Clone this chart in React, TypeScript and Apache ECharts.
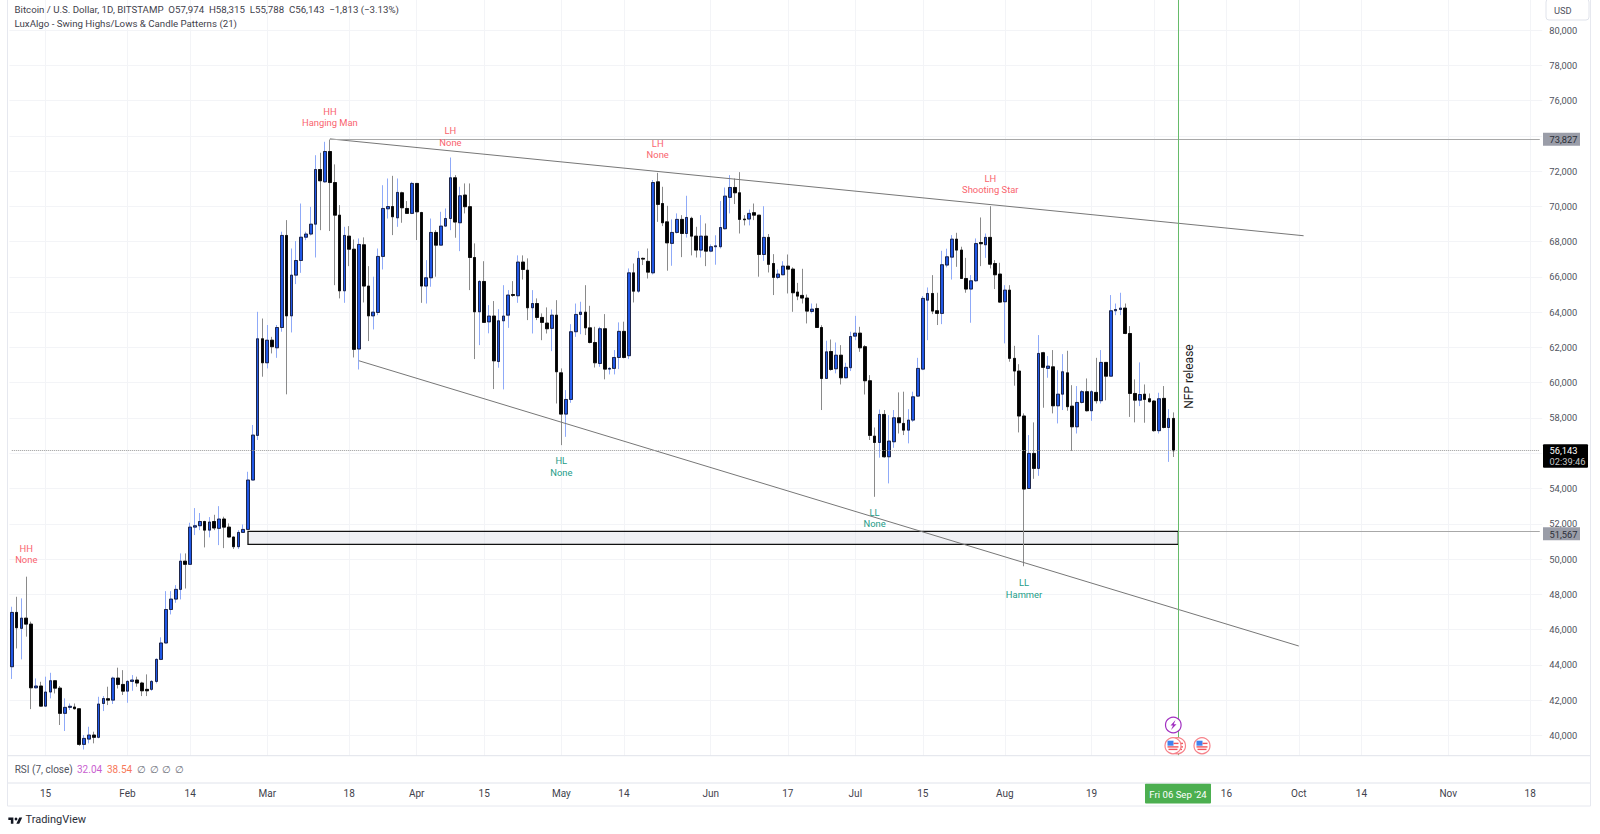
import React, { useEffect, useRef } from "react";
import * as echarts from "echarts";

const START_DATE = "2024-01-08";
const TOTAL_DAYS = 318;
const opens = [
43893,46974,46070,46650,46310,42700,42800,41660,42460,43100,
42680,41250,41590,41610,41510,39490,39790,40020,39890,41810,
42080,42000,43250,42890,42510,43060,43140,42970,42610,42610,
43060,44310,45240,47140,47730,48280,49880,49700,51810,51890,
52130,51640,52130,51740,52270,51810,51250,50700,51510,51680,
54480,57010,62490,61130,62410,61980,63130,68350,63790,66100,
66930,68250,68430,68990,72090,71390,73110,71350,69500,65210,
68310,67570,61910,67820,65480,63790,63980,67160,69860,69990,
69350,70770,69880,69600,71300,69650,65480,65950,68520,67800,
68880,69310,71620,69070,70640,69980,67100,64020,65740,63450,
63780,61200,63510,63830,65000,64930,66840,66380,64250,64490,
63700,63380,63080,63830,60560,58220,59050,62890,63870,64000,
63110,62280,61090,63060,60770,60810,61430,62910,61530,66230,
65190,67050,66880,66230,71390,70160,69120,67900,68520,69260,
68460,69320,68310,67520,68310,67460,67710,67710,68730,70510,
71070,70770,69280,69280,69640,69500,67270,68240,66760,65970,
66120,66610,66440,65140,64950,64800,64040,64210,63130,60240,
61770,60790,61560,60280,60850,62640,62810,62040,60110,56970,
56610,58200,55800,56650,58010,57690,57310,57880,59240,60770,
64680,65060,64080,63930,66670,67120,68140,67520,65910,65310,
65780,67950,67820,68240,66760,66160,64590,65250,61380,60660,
58110,54000,55990,55140,61700,60810,60900,58690,59350,60560,
58670,57500,58880,59490,58410,59450,58980,61150,60370,64080,
64150,64230,62790,59390,59010,59350,59090,58960,57280,59110,
57460,57974];
const closes = [
46974,46105,46650,46310,42700,42800,41660,42460,43100,42680,
41250,41590,41650,41510,39490,39830,40020,39890,41780,42090,
42000,43250,42890,42510,43060,43140,42970,42530,42530,43060,
44310,45240,47140,47730,48280,49880,49700,51810,51890,52130,
51640,52100,51760,52270,51810,51250,50700,51510,51680,54480,
57030,62490,61130,62410,62040,63130,68350,63790,66100,66930,
68250,68430,68990,72090,71450,73110,71350,69500,65210,68350,
67570,61890,67840,65480,63790,64000,67160,69880,69990,69410,
70790,69920,69600,71300,69690,65480,65950,68520,67800,68880,
69310,71620,69110,70600,69980,67100,64020,65740,63420,63780,
61240,63510,63780,64970,64950,66840,66420,64250,64490,63700,
63420,63060,63830,60620,58220,59050,62890,63870,64000,63110,
62280,61130,63060,60770,60810,61430,62910,61430,66230,65190,
67050,67010,66270,71350,70110,69070,67930,68520,69260,68460,
69370,68310,67520,68310,67460,67710,67760,68800,70580,71070,
70770,69260,69240,69600,69500,67270,68240,66710,65970,66160,
66610,66440,65100,64910,64800,64060,64170,63130,60240,61750,
60750,61560,60280,60870,62620,62810,61980,60110,57010,56610,
58200,55800,56690,58010,57730,57310,57880,59200,60810,64780,
65060,64060,63930,66690,67140,68140,67520,65910,65310,65780,
67890,67880,68240,66720,66120,64570,65250,61380,60660,58110,
53970,55990,55140,61660,60870,60940,58690,59350,60620,58640,
57500,58880,59490,58410,59490,58980,61150,60370,64080,64150,
64230,62790,59390,59010,59330,59050,58920,57280,59090,57460,
57974,56143];
const highs = [
47295,47860,47770,49000,46450,43230,43040,43330,43550,43140,
42800,42100,41810,41810,41530,40020,40490,40210,42190,42230,
42760,43330,43840,43700,43140,43420,43330,43040,43460,43140,
44370,45560,48180,48180,48520,50320,50320,52060,52890,52610,
52170,52380,52510,53000,52400,52020,51260,51640,51960,54950,
57600,64020,63640,63270,62600,63270,68560,69220,67610,68030,
70160,68560,69970,72900,73040,73660,73790,72380,70070,68840,
68880,68120,68180,68240,66610,66010,67610,71200,71580,71730,
71580,70830,70300,71390,71300,69690,66950,69310,68650,69690,
69880,72770,71770,71110,71300,71300,67900,65820,66890,64400,
64630,64170,65530,65250,65760,67220,67220,67050,65250,64780,
63930,64270,64150,64680,60810,59580,63320,64490,64590,65530,
64360,63170,63170,63890,60880,61850,63420,63460,66480,66760,
67460,67100,67610,71490,71900,71110,70030,69260,69600,69500,
70600,69410,68840,69500,69030,67840,68360,70300,71070,71770,
71580,71940,69500,69820,70160,69500,70010,68430,67290,66420,
66890,67270,66540,65660,66460,65000,64490,64490,63260,62380,
62450,62280,62130,61130,62890,63790,63170,62130,60430,57460,
58480,58450,58160,58450,59450,59490,58500,59490,61410,64910,
65400,66100,65100,67480,67600,68370,68500,67710,67080,66100,
68180,69370,68460,70010,66950,66800,65530,65530,62090,61050,
58260,57030,57750,62700,61750,61510,61850,60710,61620,61810,
59860,59810,59580,60240,59580,61410,61850,61150,64970,64490,
65100,64490,63210,60190,61150,59900,59390,59010,59430,59810,
58500,58315];
const lows = [
43200,44930,44310,45600,41490,42660,41630,41630,42100,42380,
40590,40250,41440,41470,39410,39200,39550,39550,39830,41380,
41720,41780,42660,42290,41850,42530,42760,42230,42230,42530,
42950,44270,45220,46860,47520,47710,48330,49660,51360,51640,
50660,51230,51640,50790,50620,51230,50570,50570,51490,51680,
54470,56750,60340,60810,61660,61410,62890,59340,62850,65590,
66230,68080,68350,67100,68650,71340,68600,65530,64780,64530,
66610,61430,60750,64550,62360,63020,63830,66420,69310,68370,
68840,69070,69600,69560,68090,64530,64490,65440,66010,67800,
68840,68650,68220,67460,69600,65250,61340,62130,63420,62800,
59640,60850,59620,63110,64870,64530,65850,63550,62790,63550,
62410,62790,61790,58820,56460,56930,58860,62600,62750,62700,
62230,60860,60900,60190,60470,60470,60770,61380,61340,64550,
65100,66670,65910,66140,69120,68880,66350,66630,68460,67120,
68230,67220,67100,67100,66610,67400,66690,67610,68690,69600,
70130,68460,68920,68920,69220,66010,66910,66250,64970,65870,
66100,65060,64020,64680,64490,63360,63930,63110,58450,60240,
60680,60530,59900,60240,60660,62410,61750,59330,56750,53530,
55750,55750,54290,56310,57120,57030,56560,57780,59200,60710,
62410,63890,63270,63320,66540,65850,66570,65910,65100,63400,
65720,66610,67080,66480,65310,64530,62230,61190,59830,57180,
49590,53970,54550,54720,58580,60280,58260,57690,58450,58410,
56130,57120,58820,58370,57840,58820,58820,59000,60370,63830,
63830,62750,58060,57750,58670,57730,58880,57220,57120,57410,
55510,55788];

const tickLabels: [string, string][] = [
  ["2024-01-15", "15"], ["2024-02-01", "Feb"], ["2024-02-14", "14"], ["2024-03-01", "Mar"],
  ["2024-03-18", "18"], ["2024-04-01", "Apr"], ["2024-04-15", "15"], ["2024-05-01", "May"],
  ["2024-05-14", "14"], ["2024-06-01", "Jun"], ["2024-06-17", "17"], ["2024-07-01", "Jul"],
  ["2024-07-15", "15"], ["2024-08-01", "Aug"], ["2024-08-19", "19"], ["2024-09-01", ""],
  ["2024-09-16", "16"], ["2024-10-01", "Oct"], ["2024-10-14", "14"], ["2024-11-01", "Nov"],
  ["2024-11-18", "18"],
];
const HIDDEN_Y_LABELS = [38000, 74000, 82000];
const swingLabels: [string, string, string, number, "r" | "g"][] = [
  ["HH", "None", "2024-01-11", 50290, "r"],
  ["HH", "Hanging Man", "2024-03-14", 75063, "r"],
  ["LH", "None", "2024-04-08", 73975, "r"],
  ["LH", "None", "2024-05-21", 73250, "r"],
  ["LH", "Shooting Star", "2024-07-29", 71270, "r"],
  ["HL", "None", "2024-05-01", 55270, "g"],
  ["LL", "None", "2024-07-05", 52330, "g"],
  ["LL", "Hammer", "2024-08-05", 48330, "g"],
];
const LAST_PRICE = 56143;
const RES_PRICE = 73827;
const BOX_TOP = 51567;
const BOX_BOTTOM = 50835;

const DAY = 86400000;
const categories: string[] = [];
for (let i = 0; i < TOTAL_DAYS; i++) {
  categories.push(new Date(Date.parse(START_DATE + "T00:00:00Z") + i * DAY).toISOString().slice(0, 10));
}
const tickMap = new Map(tickLabels);
const idx = (d: string) => categories.indexOf(d);

echarts.graphic.registerShape(
  "tvmark",
  echarts.graphic.extendPath("M14 6H2v6h6v9h6V6z M28 21H21l7-15h7L28 21z", {}) as any
);

const FONT = "Roboto, sans-serif";
const AXIS_COLOR = "#50535e";
const OFFSET = 10; // the canvas starts above the page, so the 82,000 gridline can lie off-page

function txt(text: string, x: number, y: number, fontSize: number, fill: string, extra: any = {}) {
  return {
    type: "text", z: 110, x, y,
    style: { text, fontSize, fill, fontFamily: FONT, textAlign: "left", textVerticalAlign: "middle", ...extra },
  };
}
function rect(x: number, y: number, width: number, height: number, fill: string, stroke?: string, r = 0, z = 105) {
  return { type: "rect", z, shape: { x, y, width, height, r }, style: { fill, stroke, lineWidth: stroke ? 1 : 0 } };
}
function flag(cx: number, cy: number, z: number) {
  return [
    { type: "circle", z, shape: { cx, cy, r: 8 }, style: { fill: "#fff", stroke: "#f6828a", lineWidth: 1.2 } },
    rect(cx - 5.5, cy - 5, 6, 5, "#3f82ee", undefined, 0, z + 1),
    rect(cx + 0.5, cy - 3, 5, 1.4, "#f0545c", undefined, 0, z + 1),
    rect(cx - 5.5, cy + 0.5, 11, 1.4, "#f0545c", undefined, 0, z + 1),
    rect(cx - 4.5, cy + 3, 9, 1.4, "#f0545c", undefined, 0, z + 1),
  ];
}

export default function App() {
  const ref = useRef<HTMLDivElement>(null);
  useEffect(() => {
    const chart = echarts.init(ref.current!, null, { renderer: "svg" });
    const ohlc = opens.map((o, i) => [o, closes[i], lows[i], highs[i]]);
    const bodies = opens.map((o, i) => [o, closes[i], Math.min(o, closes[i]), Math.max(o, closes[i])]);
    const xHighLine = idx("2024-03-14");
    const lineOpts = (color: string, width = 1, type: any = "solid") => ({ color, width, type });
    const option: any = {
      animation: false,
      backgroundColor: "#ffffff",
      grid: { left: 9.4, width: 1532.8, top: OFFSET - 5.27, height: 775.94, containLabel: false },
      xAxis: {
        type: "category",
        data: categories,
        boundaryGap: true,
        axisLine: { show: false },
        axisTick: { show: false },
        axisLabel: {
          interval: (_: number, v: string) => tickMap.has(v),
          formatter: (v: string) => tickMap.get(v) ?? "",
          color: "#3f424c", fontSize: 10, fontFamily: FONT, margin: 18,
        },
        splitLine: {
          show: true, alignWithLabel: true,
          interval: (_: number, v: string) => tickMap.has(v),
          lineStyle: { color: "#f3f4f7", width: 1 },
        },
      },
      yAxis: {
        type: "value", position: "right", min: 38000, max: 82000, interval: 2000,
        axisLine: { show: false }, axisTick: { show: false },
        axisLabel: {
          margin: 7, color: AXIS_COLOR, fontSize: 9.3, fontFamily: FONT,
          formatter: (v: number) => (HIDDEN_Y_LABELS.includes(v) ? "" : v.toLocaleString("en-US")),
        },
        splitLine: { lineStyle: { color: "#f3f4f7", width: 1 } },
      },
      series: [
        {
          type: "candlestick", name: "wicks", data: ohlc, barWidth: 3.2, z: 3, silent: true,
          itemStyle: { color: "#8faaf8", color0: "#8a8a8a", borderColor: "#8faaf8", borderColor0: "#8a8a8a", borderWidth: 1 },
          markArea: {
            silent: true,
            itemStyle: { color: "rgba(205,208,222,0.3)", borderColor: "#111", borderWidth: 1.3 },
            data: [[{ coord: [idx("2024-02-26"), BOX_TOP] }, { coord: [idx("2024-09-06"), BOX_BOTTOM] }]],
          },
          markLine: {
            silent: true, symbol: "none", label: { show: false },
            data: [
              [{ coord: [xHighLine, RES_PRICE], lineStyle: lineOpts("#777") }, { coord: [idx("2024-10-02"), 68333] }],
              [{ coord: [idx("2024-03-20"), 61245], lineStyle: lineOpts("#777") }, { coord: [idx("2024-10-01"), 45069] }],
              [{ coord: [xHighLine, RES_PRICE], lineStyle: lineOpts("#a8a8a8") }, { coord: [TOTAL_DAYS - 1, RES_PRICE] }],
              [{ coord: [idx("2024-09-06"), BOX_TOP], lineStyle: lineOpts("#a8a8a8") }, { coord: [TOTAL_DAYS - 1, BOX_TOP] }],
              [{ coord: [0, LAST_PRICE], lineStyle: lineOpts("#9a9a9a", 1, "dotted") }, { coord: [TOTAL_DAYS - 1, LAST_PRICE] }],
              { xAxis: idx("2024-09-06"), lineStyle: lineOpts("#66bb6a", 1) },
            ],
          },
        },
        {
          type: "candlestick", name: "bodies", data: bodies, barWidth: 3.2, z: 4, silent: true,
          itemStyle: { color: "#1f57e6", color0: "#000000", borderColor: "#101020", borderColor0: "#000000", borderWidth: 0.8 },
          markPoint: {
            silent: true, symbol: "circle", symbolSize: 0,
            data: swingLabels.map(([a, b, d, p, c]) => ({
              coord: [idx(d), p],
              label: {
                show: true, position: "inside", formatter: `${a}\n${b}`, lineHeight: 11.8,
                fontSize: 9.4, fontFamily: FONT, color: c === "r" ? "#f9636e" : "#1c9c88", align: "center",
              },
            })),
          },
        },
      ],
      graphic: {
        elements: [{
          type: "group", x: 0, y: OFFSET,
          children: [
            rect(0, 755.7, 1600, 27.5, "#ffffff"),
            { type: "line", z: 106, shape: { x1: 7.5, y1: 755.7, x2: 1590.5, y2: 755.7 }, style: { stroke: "#e0e3eb", lineWidth: 1 } },
            { type: "line", z: 106, shape: { x1: 7.5, y1: 783, x2: 1590.5, y2: 783 }, style: { stroke: "#e0e3eb", lineWidth: 1 } },
            { type: "rect", z: 106, shape: { x: 7.5, y: -2, width: 1583, height: 808 }, style: { fill: "none", stroke: "#e6e8ef", lineWidth: 1 } },
            txt("Bitcoin / U.S. Dollar, 1D, BITSTAMP  O57,974  H58,315  L55,788  C56,143  −1,813 (−3.13%)", 14.5, 9.3, 9.7, "#3f424c"),
            txt("LuxAlgo - Swing Highs/Lows & Candle Patterns (21)", 14.5, 23.3, 9.7, "#3f424c"),
            rect(1546, -1, 43, 21, "#ffffff", "#e0e3eb", 3),
            txt("USD", 1554, 10, 9.3, AXIS_COLOR),
            rect(1543, 132.7, 37, 13, "#9a9da8"),
            txt("73,827", 1549.5, 139.3, 9.3, "#2b2d36"),
            rect(1543, 527.2, 37, 13, "#9a9da8"),
            txt("51,567", 1549.5, 534, 9.3, "#2b2d36"),
            rect(1543, 444.3, 45, 23.4, "#000000", undefined, 1),
            txt("56,143", 1549.5, 450.5, 9.3, "#ffffff"),
            txt("02:39:46", 1549.5, 461.2, 9.3, "#c8c8c8"),
            {
              type: "text", z: 110, x: 1189, y: 376.5, rotation: Math.PI / 2,
              style: { text: "NFP release", fontSize: 12, fill: "#1c1c1c", fontFamily: FONT, textAlign: "center", textVerticalAlign: "middle" },
            },
            ...flag(1173, 745.7, 112),
            ...flag(1177.5, 745.7, 108),
            ...flag(1202, 745.7, 112),
            { type: "circle", z: 112, shape: { cx: 1173.3, cy: 725, r: 7.8 }, style: { fill: "#fff", stroke: "#a12fc0", lineWidth: 1.2 } },
            {
              type: "polygon", z: 113,
              shape: { points: [[1175.5, 720], [1170.5, 725.5], [1173, 725.5], [1171, 730], [1176.5, 724.2], [1173.8, 724.2]] },
              style: { fill: "#a12fc0" },
            },
            txt("RSI (7, close)", 14.7, 769.3, 10, "#50535e"),
            txt("32.04", 77, 769.3, 10, "#c95fd0"),
            txt("38.54", 107, 769.3, 10, "#f7795a"),
            txt("∅", 137, 769.3, 10, "#6a6d78"),
            txt("∅", 149.5, 769.3, 10, "#6a6d78"),
            txt("∅", 162, 769.3, 10, "#6a6d78"),
            txt("∅", 174.5, 769.3, 10, "#6a6d78"),
            rect(1145, 783.5, 66, 20, "#4caf50", undefined, 1),
            txt("Fri 06 Sep '24", 1178, 794, 9.6, "#ffffff", { textAlign: "center" }),
            { type: "tvmark", z: 110, x: 7.5, y: 815, scaleX: 0.42, scaleY: 0.42, style: { fill: "#131722" } },
            { type: "circle", z: 110, shape: { cx: 16, cy: 819, r: 1.4 }, style: { fill: "#131722" } },
            txt("TradingView", 25.5, 819.5, 11, "#2a2e39"),
          ],
        }],
      },
    };
    chart.setOption(option);
    return () => chart.dispose();
  }, []);
  return (
    <div
      ref={ref}
      style={{ position: "absolute", left: 0, top: -OFFSET, width: 1600, height: 834 + OFFSET, background: "#fff" }}
    />
  );
}
